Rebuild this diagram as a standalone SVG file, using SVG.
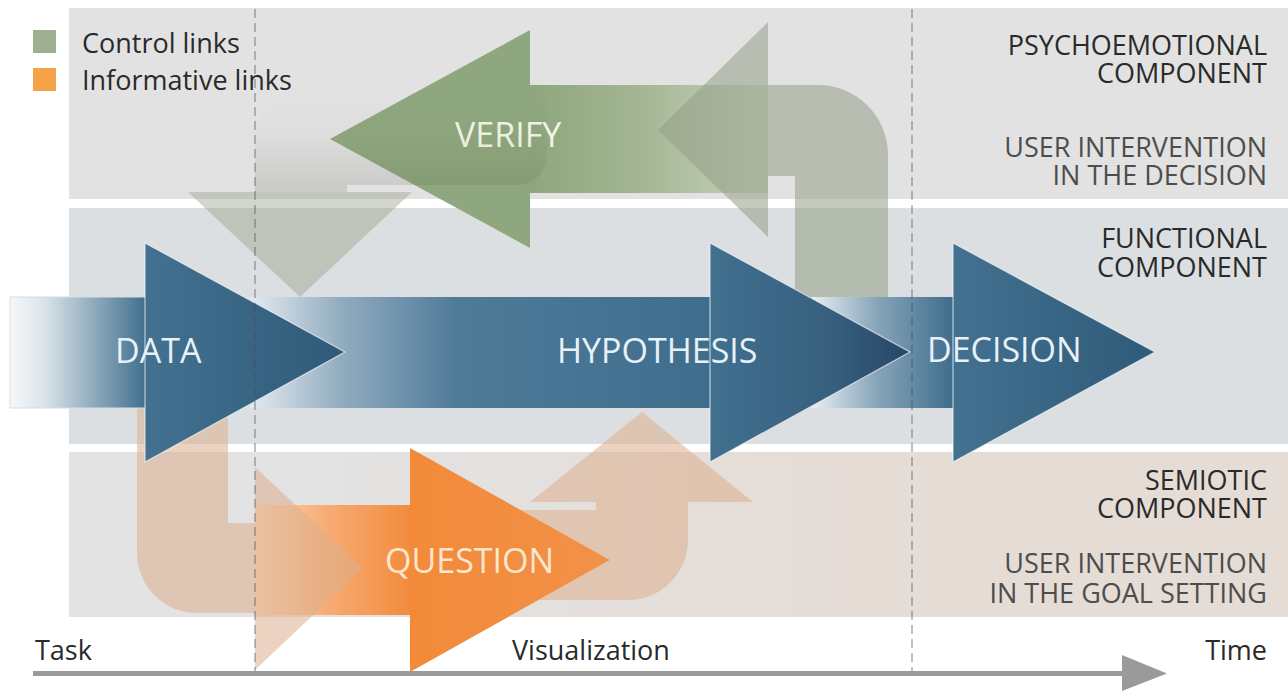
<svg xmlns="http://www.w3.org/2000/svg" width="1288" height="691" viewBox="0 0 1288 691">
  <style>
    text { font-family: "Open Sans", "Liberation Sans", sans-serif; }
    .lbl { font-size: 27px; fill: #2a2a2a; }
    .sub { font-size: 27px; fill: #4d4d4d; }
    .side { text-anchor: end; }
    .node-text { font-size: 34px; }
    .blue-text { fill: #e6f1f8; }
    .edge { stroke: #f2f6f9; stroke-width: 1.2; stroke-opacity: 0.7; }
    .guide { stroke: #4a4a4a; stroke-opacity: 0.35; stroke-width: 2; stroke-dasharray: 9 5; fill: none; }
  </style>
  <defs>
    <linearGradient id="bandLow" x1="300" y1="0" x2="850" y2="0" gradientUnits="userSpaceOnUse">
      <stop offset="0" stop-color="#e3e3e3"/>
      <stop offset="1" stop-color="#e5dcd6"/>
    </linearGradient>
    <linearGradient id="shaftData" x1="10" y1="0" x2="145" y2="0" gradientUnits="userSpaceOnUse">
      <stop offset="0" stop-color="#f6f8fa"/>
      <stop offset="0.25" stop-color="#dbe4ea"/>
      <stop offset="1" stop-color="#41708f"/>
    </linearGradient>
    <linearGradient id="shaftHyp" x1="250" y1="0" x2="710" y2="0" gradientUnits="userSpaceOnUse">
      <stop offset="0" stop-color="#e4ebf0"/>
      <stop offset="0.2" stop-color="#90abbf"/>
      <stop offset="0.45" stop-color="#4f7b99"/>
      <stop offset="1" stop-color="#3f6d8c"/>
    </linearGradient>
    <linearGradient id="shaftDec" x1="812" y1="0" x2="953" y2="0" gradientUnits="userSpaceOnUse">
      <stop offset="0" stop-color="#e8eef2"/>
      <stop offset="0.45" stop-color="#88a6bb"/>
      <stop offset="1" stop-color="#3f6d8c"/>
    </linearGradient>
    <linearGradient id="headBlue" x1="0" y1="0" x2="1" y2="0">
      <stop offset="0" stop-color="#43718f"/>
      <stop offset="1" stop-color="#2f5a79"/>
    </linearGradient>
    <linearGradient id="headBlueDark" x1="0" y1="0" x2="1" y2="0">
      <stop offset="0" stop-color="#42708f"/>
      <stop offset="0.6" stop-color="#375f7e"/>
      <stop offset="1" stop-color="#264766"/>
    </linearGradient>
    <linearGradient id="shaftVerify" x1="530" y1="0" x2="768" y2="0" gradientUnits="userSpaceOnUse">
      <stop offset="0" stop-color="#8ea67d"/>
      <stop offset="0.45" stop-color="#a3b593"/>
      <stop offset="1" stop-color="#c8d3bb"/>
    </linearGradient>
    <linearGradient id="shaftQuestion" x1="255" y1="0" x2="412" y2="0" gradientUnits="userSpaceOnUse">
      <stop offset="0" stop-color="#fcd8bc"/>
      <stop offset="0.45" stop-color="#f7ac75"/>
      <stop offset="1" stop-color="#f28b3c"/>
    </linearGradient>
    <linearGradient id="headOrange" x1="0" y1="0" x2="1" y2="0">
      <stop offset="0" stop-color="#f28a3a"/>
      <stop offset="1" stop-color="#f29147"/>
    </linearGradient>
    <linearGradient id="ghostFade" x1="0" y1="88" x2="0" y2="190" gradientUnits="userSpaceOnUse">
      <stop offset="0" stop-color="#56604c" stop-opacity="0"/>
      <stop offset="0.45" stop-color="#56604c" stop-opacity="0.03"/>
      <stop offset="1" stop-color="#56604c" stop-opacity="0.18"/>
    </linearGradient>
  </defs>

  <rect width="1288" height="691" fill="#ffffff"/>

  <!-- horizontal bands: psychoemotional, functional, semiotic -->
  <g id="bands">
    <rect x="69" y="8" width="1219" height="191" fill="#e2e2e2"/>
    <rect x="69" y="208" width="1219" height="236" fill="#dcdfe1"/>
    <rect x="69" y="452" width="1219" height="165" fill="url(#bandLow)"/>
  </g>

  <!-- legend -->
  <g id="legend">
    <rect x="33" y="30" width="23" height="23" fill="#9db190"/>
    <rect x="33" y="68" width="23" height="23" fill="#f5a248"/>
    <text class="lbl" x="82" y="53">Control links</text>
    <text class="lbl" x="82" y="90">Informative links</text>
  </g>

  <!-- VERIFY (control, pointing back) -->
  <g id="node-verify">
    <rect x="529" y="85" width="239" height="108" fill="url(#shaftVerify)"/>
    <polygon points="330,139 530,30 530,248" fill="#8fa77e"/>
    <text class="node-text" x="455" y="147" fill="#f1f6e6">VERIFY</text>
  </g>

  <!-- QUESTION (informative) -->
  <g id="node-question">
    <rect x="255" y="505" width="156" height="110" fill="url(#shaftQuestion)"/>
    <polygon points="410,448 610,560 410,672" fill="url(#headOrange)"/>
    <text class="node-text" x="385" y="573" fill="#fde6cc">QUESTION</text>
  </g>

  <!-- feedback links (U-turn arrows) -->
  <g id="connectors">
    <!-- control link: from VERIFY down into the functional layer -->
    <path d="M547,88 L305,88 A50,50 0 0 0 255,138 L255,192 L347,192 L347,185 L517,185 A30,30 0 0 0 547,155 Z" fill="url(#ghostFade)"/>
    <polygon points="188,192 412,192 300,297" fill="#9ca58f" fill-opacity="0.45"/>
    <!-- control link: from DECISION up into VERIFY -->
    <path d="M768,22 L658,130 L768,237 L768,176 L795,176 L795,352 L888,352 L888,155 A70,70 0 0 0 818,85 L768,85 Z" fill="#949e89" fill-opacity="0.55"/>
    <!-- informative link: from DATA down into QUESTION -->
    <path d="M137,352 L228,352 L228,523 L255,523 L255,467 L363,568 L255,670 L255,613 L197,613 A60,60 0 0 1 137,553 Z" fill="#dcae8e" fill-opacity="0.55"/>
    <!-- informative link: from QUESTION up into HYPOTHESIS -->
    <path d="M521,510 L596,510 L596,502 L530,502 L642,412 L753,502 L688,502 L688,540 A60,60 0 0 1 628,600 L539,600 L610,560 Z" fill="#dcae8e" fill-opacity="0.55"/>
  </g>

  <!-- functional chain -->
  <g id="node-decision">
    <rect x="812" y="297" width="142" height="111" fill="url(#shaftDec)"/>
    <polygon class="edge" points="953,243 1155,352 953,462" fill="url(#headBlue)"/>
    <text class="node-text blue-text" x="927" y="362">DECISION</text>
  </g>
  <g id="node-hypothesis">
    <rect x="250" y="297" width="461" height="111" fill="url(#shaftHyp)"/>
    <polygon class="edge" points="710,243 910,352 710,462" fill="url(#headBlueDark)"/>
    <text class="node-text blue-text" x="557" y="363">HYPOTHESIS</text>
  </g>
  <g id="node-data">
    <rect x="10" y="297" width="136" height="111" fill="url(#shaftData)" stroke="#d6dde2" stroke-width="1"/>
    <polygon class="edge" points="145,243 345,352 145,462" fill="url(#headBlue)"/>
    <text class="node-text blue-text" x="115" y="363">DATA</text>
  </g>

  <!-- stage boundaries -->
  <g id="guides">
    <line class="guide" x1="255" y1="9" x2="255" y2="672"/>
    <line class="guide" x1="912" y1="9" x2="912" y2="672"/>
  </g>

  <!-- layer captions -->
  <g id="captions">
    <text class="lbl side" x="1267" y="55">PSYCHOEMOTIONAL<tspan x="1267" dy="28">COMPONENT</tspan></text>
    <text class="sub side" x="1267" y="157">USER INTERVENTION<tspan x="1267" dy="28">IN THE DECISION</tspan></text>
    <text class="lbl side" x="1267" y="248">FUNCTIONAL<tspan x="1267" dy="29">COMPONENT</tspan></text>
    <text class="lbl side" x="1267" y="490">SEMIOTIC<tspan x="1267" dy="28">COMPONENT</tspan></text>
    <text class="sub side" x="1267" y="573">USER INTERVENTION<tspan x="1267" dy="30">IN THE GOAL SETTING</tspan></text>
  </g>

  <!-- time axis -->
  <g id="axis">
    <line x1="33" y1="673.5" x2="1126" y2="673.5" stroke="#9a9a9a" stroke-width="5"/>
    <polygon points="1122,655 1167,673.5 1122,691" fill="#9a9a9a"/>
    <text class="lbl" x="35" y="660">Task</text>
    <text class="lbl" x="512" y="660">Visualization</text>
    <text class="lbl side" x="1267" y="660">Time</text>
  </g>
</svg>
